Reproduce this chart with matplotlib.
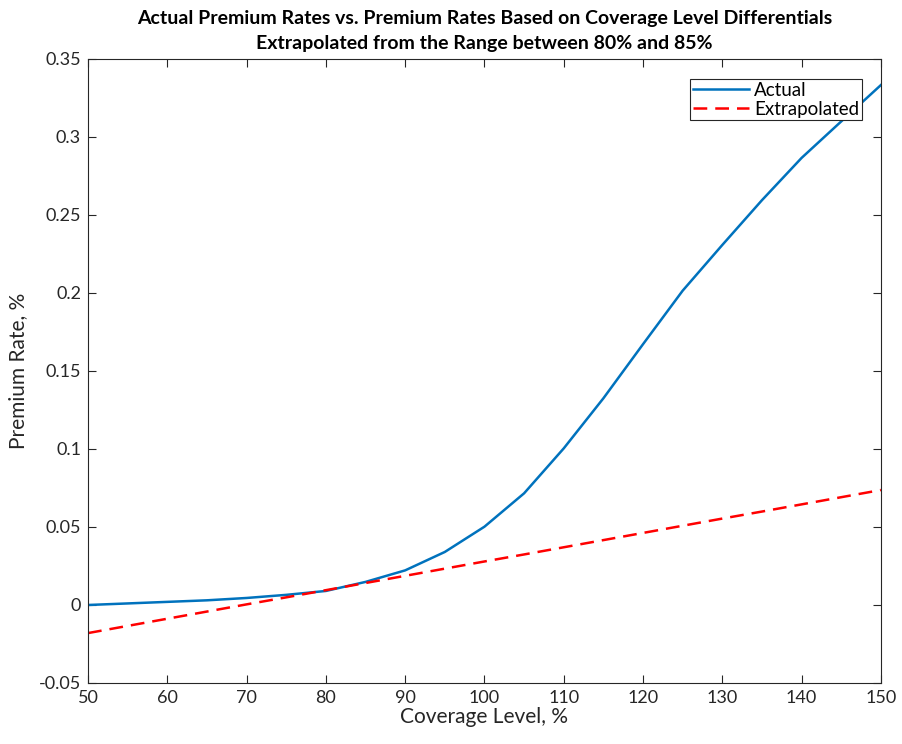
import matplotlib
matplotlib.use("Agg")
import matplotlib.pyplot as plt

# coverage level (%) and premium rates (%)
coverage = [50, 55, 60, 65, 70, 75, 80, 85, 90, 95, 100, 105, 110, 115, 120,
            125, 130, 135, 140, 145, 150]
actual = [0.0, 0.001, 0.002, 0.003, 0.0045, 0.0065, 0.009, 0.0148, 0.0222, 0.034,
          0.0502, 0.0716, 0.1004, 0.1325, 0.1672, 0.2015, 0.2308, 0.2595, 0.2866,
          0.3100, 0.3333]
extrapolated = [-0.0180, -0.0134, -0.0088, -0.0042, 0.0004, 0.0049, 0.0095, 0.0141,
                0.0187, 0.0233, 0.0279, 0.0324, 0.0370, 0.0416, 0.0462, 0.0508,
                0.0554, 0.0599, 0.0645, 0.0691, 0.0737]

plt.rcParams["font.family"] = ["Lato", "DejaVu Sans"]

fig = plt.figure(figsize=(9.02, 7.44), dpi=100)
ax = fig.add_axes([0.0976, 0.082, 0.879, 0.8387])

ax.plot(coverage, actual, color="#0072BD", lw=1.8, label="Actual")
ax.plot(coverage, extrapolated, color="#FF0000", lw=1.8, ls=(0, (5.5, 3.2)),
        label="Extrapolated")

ax.set_xlim(50, 150)
ax.set_ylim(-0.05, 0.35)
ax.set_xticks(range(50, 151, 10))
ax.set_yticks([-0.05, 0, 0.05, 0.1, 0.15, 0.2, 0.25, 0.3, 0.35])
ax.set_yticklabels(["-0.05", "0", "0.05", "0.1", "0.15", "0.2", "0.25", "0.3", "0.35"])
ax.tick_params(direction="in", top=True, right=True, length=6, width=0.8,
               labelsize=13, colors="#262626", pad=5)
for s in ax.spines.values():
    s.set_color("#262626")
    s.set_linewidth(0.8)

ax.set_xlabel("Coverage Level, %", fontsize=15, color="#262626", labelpad=1)
ax.set_ylabel("Premium Rate, %", fontsize=15, color="#262626", labelpad=8)
ax.set_title("Actual Premium Rates vs. Premium Rates Based on Coverage Level Differentials\n"
             "Extrapolated from the Range between 80% and 85%",
             fontsize=14, fontweight="bold", pad=7, linespacing=1.6)

leg = ax.legend(loc="upper right", bbox_to_anchor=(0.976, 0.968), fontsize=13.5,
                fancybox=False, framealpha=1, edgecolor="#262626",
                borderpad=0.15, labelspacing=0.1, handlelength=3.0,
                handletextpad=0.25, borderaxespad=0)
leg.get_frame().set_linewidth(0.8)

fig.savefig("out.png", dpi=100)
